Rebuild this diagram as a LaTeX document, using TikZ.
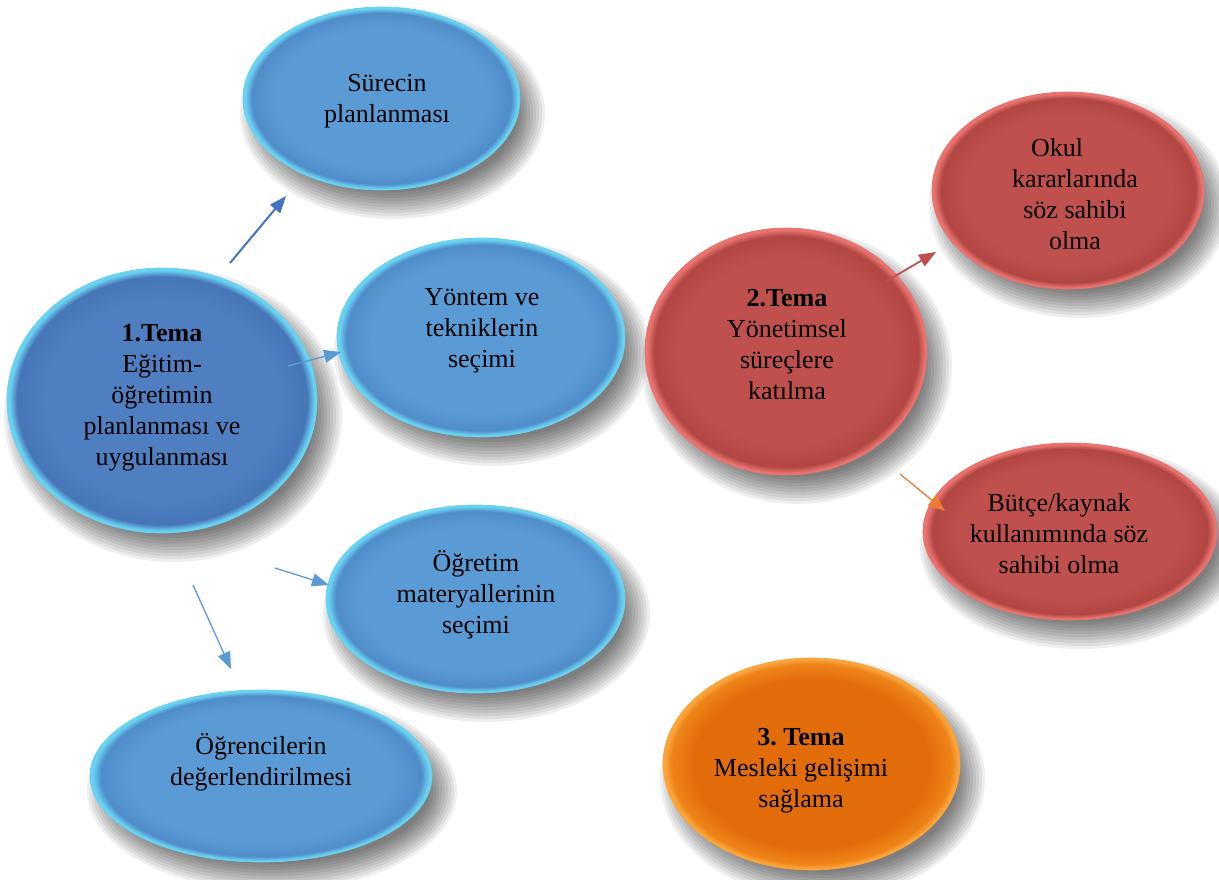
\documentclass[tikz,border=0pt]{standalone}
\usepackage{fontspec}
\setmainfont{Liberation Serif}
\usetikzlibrary{shapes.geometric,arrows.meta}
\definecolor{bfill}{HTML}{5B9BD5}
\definecolor{bedge}{HTML}{4F8DCA}
\definecolor{brim}{HTML}{6AD2F0}
\definecolor{dfill}{HTML}{4F7FC1}
\definecolor{dedge}{HTML}{4776B8}
\definecolor{rfill}{HTML}{C0504D}
\definecolor{redge}{HTML}{B24643}
\definecolor{rrim}{HTML}{E8736F}
\definecolor{ofill}{HTML}{E36C0A}
\definecolor{oedge}{HTML}{EE8418}
\definecolor{orim}{HTML}{F9A43C}
\definecolor{arrdark}{HTML}{4472C4}
\definecolor{arrblue}{HTML}{5B9BD5}
\definecolor{arrred}{HTML}{C0504D}
\definecolor{arrorange}{HTML}{ED7D31}
\pgfdeclareradialshading{blueball}{\pgfpoint{0bp}{0bp}}{color(0bp)=(bfill); color(19bp)=(bfill); color(23.4bp)=(bedge); color(24.6bp)=(brim); color(50bp)=(brim)}
\pgfdeclareradialshading{darkball}{\pgfpoint{0bp}{0bp}}{color(0bp)=(dfill); color(19bp)=(dfill); color(23.4bp)=(dedge); color(24.6bp)=(brim); color(50bp)=(brim)}
\pgfdeclareradialshading{redball}{\pgfpoint{0bp}{0bp}}{color(0bp)=(rfill); color(19bp)=(rfill); color(23.4bp)=(redge); color(24.6bp)=(rrim); color(50bp)=(rrim)}
\pgfdeclareradialshading{orangeball}{\pgfpoint{0bp}{0bp}}{color(0bp)=(ofill); color(20bp)=(ofill); color(23.6bp)=(oedge); color(24.6bp)=(orim); color(50bp)=(orim)}
\newcommand{\ovalshadow}[4]{%
  \foreach \k in {0,...,9}{%
    \fill[black, opacity=0.065] ({#1+11},{#2+15}) ellipse [x radius={#3+14-3*\k}, y radius={#4+14-3*\k}];
  }}
\tikzset{
  bub/.style={ellipse, inner sep=0pt, shade, draw=#1, line width=0.7pt},
  lbl/.style={align=center, font=\fontsize{26}{31}\selectfont, inner sep=0pt},
  conn/.style={-{Triangle[length=17pt,width=13pt]}, line width=1.6pt},
}
\begin{document}
\begin{tikzpicture}[x=1pt,y=-1pt]
\useasboundingbox[fill=white] (0,0) rectangle (1219,879);
% shadows
\ovalshadow{381.5}{98.5}{138.5}{91.5}
\ovalshadow{162}{400.5}{155}{132.5}
\ovalshadow{481}{337.5}{144}{99.5}
\ovalshadow{475.5}{599}{149.5}{94}
\ovalshadow{261}{776}{171}{86}
\ovalshadow{786}{351.5}{141}{123.5}
\ovalshadow{1068}{190.5}{136}{98.5}
\ovalshadow{1070}{531.5}{147}{88.5}
\ovalshadow{811.5}{764}{148.5}{106}
% ellipses
\node[bub=brim, shading=blueball, minimum width=277pt, minimum height=183pt] (surec) at (381.5,98.5) {};
\node[bub=brim, shading=darkball, minimum width=310pt, minimum height=265pt] (tema1) at (162,400.5) {};
\node[bub=brim, shading=blueball, minimum width=288pt, minimum height=199pt] (yontem) at (481,337.5) {};
\node[bub=brim, shading=blueball, minimum width=299pt, minimum height=188pt] (ogretim) at (475.5,599) {};
\node[bub=brim, shading=blueball, minimum width=342pt, minimum height=172pt] (ogrenci) at (261,776) {};
\node[bub=rrim, shading=redball, minimum width=282pt, minimum height=247pt] (tema2) at (786,351.5) {};
\node[bub=rrim, shading=redball, minimum width=272pt, minimum height=197pt] (okul) at (1068,190.5) {};
\node[bub=rrim, shading=redball, minimum width=294pt, minimum height=177pt] (butce) at (1070,531.5) {};
\node[bub=orim, shading=orangeball, minimum width=297pt, minimum height=212pt] (tema3) at (811.5,764) {};
% texts
\node[lbl] (tsurec) at (387,101) {Sürecin\\planlanması};
\node[lbl] (ttema1) at (162,398) {\textbf{1.Tema}\\Eğitim-\\öğretimin\\planlanması ve\\uygulanması};
\node[lbl] (tyontem) at (482,331) {Yöntem ve\\tekniklerin\\seçimi};
\node[lbl] (togretim) at (476,595) {Öğretim\\materyallerinin\\seçimi};
\node[lbl] (togrenci) at (261,762) {Öğrencilerin\\değerlendirilmesi};
\node[lbl] (ttema2) at (787,345) {\textbf{2.Tema}\\Yönetimsel\\süreçlere\\katılma};
\node[lbl] (tokul) at (1075,194) {Okul\hspace*{36pt}\\kararlarında\\söz sahibi\\olma};
\node[lbl] (tbutce) at (1059,534) {Bütçe/kaynak\\kullanımında söz\\sahibi olma};
\node[lbl] (ttema3) at (801,771) {\textbf{3.\ Tema}\\Mesleki gelişimi\\sağlama};
% connector ends
\coordinate (a1s) at (230,263); \coordinate (a1e) at (286,196);
\coordinate (a2s) at (288,366); \coordinate (a2e) at (341,352);
\coordinate (a3s) at (275,568); \coordinate (a3e) at (329,585);
\coordinate (a4s) at (193,585); \coordinate (a4e) at (231,669);
\coordinate (a5s) at (885,282); \coordinate (a5e) at (936,252);
\coordinate (a6s) at (900,474); \coordinate (a6e) at (945,511);
\draw[conn, arrdark, line width=2pt] (a1s) -- (a1e);
\draw[conn, arrblue, line width=1.3pt] (a2s) -- (a2e);
\draw[conn, arrblue, line width=1.3pt] (a3s) -- (a3e);
\draw[conn, arrblue, line width=1.3pt] (a4s) -- (a4e);
\draw[conn, arrred, line width=1.8pt] (a5s) -- (a5e);
\draw[conn, arrorange, line width=1.3pt] (a6s) -- (a6e);
\end{tikzpicture}
\end{document}
